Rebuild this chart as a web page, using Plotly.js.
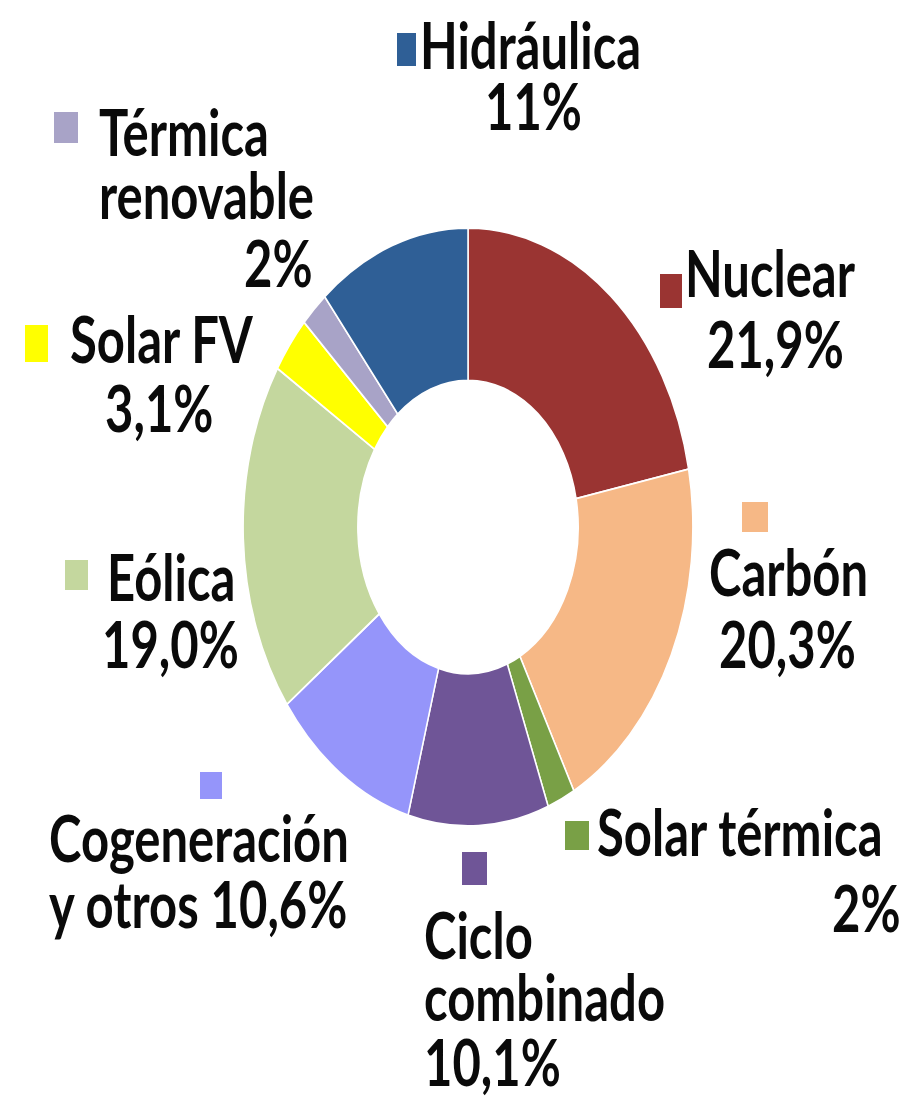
<!DOCTYPE html>
<html>
<head>
<meta charset="utf-8">
<script src="https://cdn.plot.ly/plotly-3.0.1.min.js"></script>
<style>
  html, body { margin: 0; padding: 0; background: #ffffff; overflow: hidden; }
  #wrap { width: 914px; height: 1117px; overflow: hidden; }
  #chart { width: 914px; height: 840px; transform: scaleY(1.329762); transform-origin: 0 0; }
</style>
</head>
<body>
<div id="wrap"><div id="chart"></div></div>
<script>
// ---- data (clockwise from 12 o'clock) ----
const categories = ["Nuclear", "Carbón", "Solar térmica", "Ciclo combinado",
  "Cogeneración y otros", "Eólica", "Solar FV", "Térmica renovable", "Hidráulica"];
const shares = [21.9, 20.3, 2, 10.1, 10.6, 19.0, 3.1, 2, 11];
const shareLabels = ["21,9%", "20,3%", "2%", "10,1%", "10,6%", "19,0%", "3,1%", "2%", "11%"];
const nameLines = [["Nuclear"], ["Carbón"], ["Solar térmica"], ["Ciclo", "combinado"],
  ["Cogeneración", "y otros"], ["Eólica"], ["Solar FV"], ["Térmica", "renovable"], ["Hidráulica"]];
const colors = ["#9A3432", "#F6B886", "#79A046", "#6F5597", "#9595FA",
  "#C4D79E", "#FFFF00", "#A8A3C7", "#2F5F96"];

// ---- label placement (reference pixel space 914x1117) ----
const W = 914, H = 1117;
const labelLayout = [
  { key: [660, 274, 682, 308], lines: [[683, 296], [705, 368]] },
  { key: [742, 502, 768, 532], lines: [[707, 595], [717, 667]] },
  { key: [565, 821, 589, 850], lines: [[595, 855], [830, 932]] },
  { key: [462, 852, 487, 885], lines: [[422, 958], [422, 1020], [422, 1085]] },
  { key: [200, 772, 222, 799], lines: [[47, 861], [47, 928]], inlinePct: true },
  { key: [65, 560, 88, 590], lines: [[105, 600], [100, 667]] },
  { key: [25, 325, 48, 362], lines: [[68, 362], [103, 432]] },
  { key: [54, 112, 78, 143], lines: [[97, 155], [97, 218], [242, 287]] },
  { key: [397, 33, 416, 66], lines: [[418, 68], [483, 130]] }
];

const FONT = { family: "Lato, 'Open Sans', 'Liberation Sans', sans-serif", size: 49, color: "#0a0a0a", weight: 700 };
const CAP = 49;

const annotations = [];
const shapes = [];
labelLayout.forEach((L, i) => {
  let texts = nameLines[i].slice();
  if (L.inlinePct) texts[texts.length - 1] = texts[texts.length - 1] + " " + shareLabels[i];
  else texts.push(shareLabels[i]);
  texts.forEach((t, j) => {
    const [lx, base] = L.lines[j];
    annotations.push({
      xref: "paper", yref: "paper", x: lx / W, y: 1 - (base - CAP / 2) / H,
      xanchor: "left", yanchor: "middle", showarrow: false,
      text: "<b>" + t + "</b>", font: FONT
    });
  });
  const [x0, y0, x1, y1] = L.key;
  shapes.push({
    type: "rect", xref: "paper", yref: "paper",
    x0: x0 / W, x1: x1 / W, y0: 1 - y1 / H, y1: 1 - y0 / H,
    fillcolor: colors[i], line: { width: 0 }
  });
});

const trace = {
  type: "pie",
  labels: categories,
  values: shares,
  sort: false,
  direction: "clockwise",
  rotation: 0,
  hole: 0.49,
  textinfo: "none",
  hoverinfo: "label+percent",
  showlegend: false,
  marker: { colors: colors, line: { color: "#ffffff", width: 1.5 } },
  domain: { x: [243 / W, 693 / W], y: [1 - 826 / H, 1 - 228 / H] }
};

const layout = {
  width: 914, height: 840,
  margin: { l: 0, r: 0, t: 0, b: 0 },
  paper_bgcolor: "#ffffff",
  plot_bgcolor: "#ffffff",
  showlegend: false,
  annotations: annotations,
  shapes: shapes
};

Plotly.newPlot("chart", [trace], layout, { displayModeBar: false, staticPlot: true });
</script>
</body>
</html>
